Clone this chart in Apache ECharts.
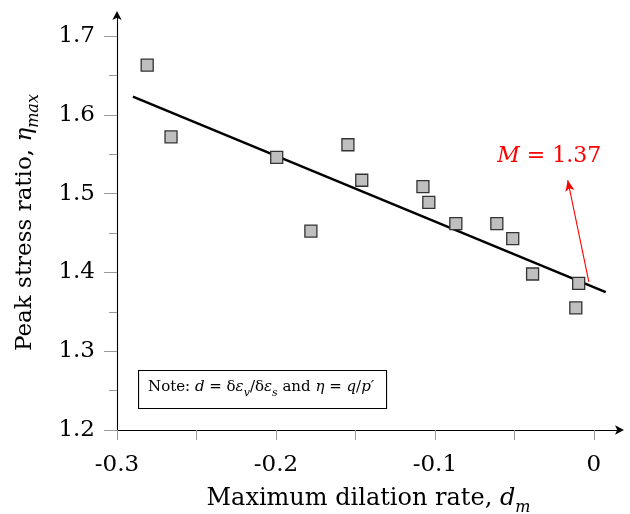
<!DOCTYPE html>
<html>
<head>
<meta charset="utf-8">
<script src="https://cdn.jsdelivr.net/npm/echarts@6/dist/echarts.min.js"></script>
<style>
  html, body { margin: 0; padding: 0; background: #fff; }
  #chart { width: 630px; height: 514px; }
</style>
</head>
<body>
<div id="chart"></div>
<script>
// Maximum dilation rate vs. peak stress ratio
const dilationRate = [-0.281, -0.266, -0.1995, -0.178, -0.1547, -0.146, -0.1075, -0.1038, -0.0868, -0.061, -0.051, -0.0385, -0.0095, -0.0113];
const peakRatio    = [1.663, 1.572, 1.546, 1.4525, 1.562, 1.517, 1.509, 1.489, 1.462, 1.462, 1.443, 1.398, 1.386, 1.355];

// Linear fit end points
const fitX = [-0.29, 0.0075];
const fitY = [1.623, 1.375];

// Tick values
const xMajorTicks = [-0.3, -0.2, -0.1, 0];
const xMinorTicks = [-0.25, -0.15, -0.05];
const yMajorTicks = [1.2, 1.3, 1.4, 1.5, 1.6, 1.7];
const yMinorTicks = [1.25, 1.35, 1.45, 1.55, 1.65];

// Slope annotation
const mArrowFrom = [-0.0031, 1.388];
const mArrowTo = [-0.0164, 1.517];
const mTextAt = [-0.028, 1.548];

const FONT = '"DejaVu Serif", "Liberation Serif", serif';
const X_MIN = -0.3, X_MAX = 0.0165, Y_MIN = 1.2, Y_MAX = 1.7267;
const GRID = { left: 117, right: 10, top: 15, bottom: 84, containLabel: false, outerBoundsMode: 'none' };

const chart = echarts.init(document.getElementById('chart'), null, { renderer: 'canvas' });

const scatterData = dilationRate.map((x, i) => [x, peakRatio[i]]);
const fitData = fitX.map((x, i) => [x, fitY[i]]);

const tickStyle = { color: '#9a9a9a', width: 1 };
const titleRich = (size) => ({
  t: { fontFamily: FONT, fontSize: size, color: '#000', verticalAlign: 'bottom' },
  i: { fontFamily: FONT, fontSize: size, fontStyle: 'italic', color: '#000', verticalAlign: 'bottom' },
  s: { fontFamily: FONT, fontSize: 16, fontStyle: 'italic', color: '#000', verticalAlign: 'bottom', padding: [0, 0, -5, 0] }
});

// a second, identical grid that only carries the minor ticks
const minorAxis = (values, length) => ({
  type: 'value', gridIndex: 1,
  axisLine: { show: false, onZero: false },
  axisTick: { show: true, customValues: values, length: length, lineStyle: tickStyle },
  axisLabel: { show: false },
  splitLine: { show: false }
});

const option = {
  backgroundColor: '#fff',
  animation: false,
  grid: [Object.assign({}, GRID), Object.assign({}, GRID)],
  xAxis: [
    {
      type: 'value', gridIndex: 0, min: X_MIN, max: X_MAX,
      axisLine: { show: true, onZero: false, symbol: ['none', 'arrow'], symbolSize: [7, 9], symbolOffset: [0, 4],
                  lineStyle: { color: '#000', width: 1.1 } },
      axisTick: { show: true, customValues: xMajorTicks, length: 10, lineStyle: tickStyle },
      axisLabel: { customValues: xMajorTicks, margin: 24, color: '#000', fontFamily: FONT, fontSize: 23,
                   formatter: v => (v === 0 ? '0' : String(v)) },
      splitLine: { show: false },
      name: '{t|Maximum dilation rate, }{i|d}{s|m}',
      nameLocation: 'middle', nameGap: 57,
      nameTextStyle: { rich: titleRich(24) }
    },
    Object.assign(minorAxis(xMinorTicks, 10), { min: X_MIN, max: X_MAX, position: 'bottom' })
  ],
  yAxis: [
    {
      type: 'value', gridIndex: 0, min: Y_MIN, max: Y_MAX,
      axisLine: { show: true, onZero: false, symbol: ['none', 'arrow'], symbolSize: [7, 9], symbolOffset: [0, 4],
                  lineStyle: { color: '#000', width: 1.1 } },
      axisTick: { show: true, customValues: yMajorTicks, length: 13, lineStyle: tickStyle },
      axisLabel: { customValues: yMajorTicks, margin: 22, color: '#000', fontFamily: FONT, fontSize: 23,
                   formatter: v => v.toFixed(1) },
      splitLine: { show: false },
      name: '{t|Peak stress ratio, }{i|η}{s|max}',
      nameLocation: 'middle', nameGap: 80, nameRotate: 90,
      nameTextStyle: { rich: titleRich(23) }
    },
    Object.assign(minorAxis(yMinorTicks, 8), { min: Y_MIN, max: Y_MAX, position: 'left' })
  ],
  series: [
    {
      name: 'fit', type: 'line', xAxisIndex: 0, yAxisIndex: 0, data: fitData, showSymbol: false, symbol: 'none',
      lineStyle: { color: '#000', width: 2.5 }, z: 2,
      markLine: {
        silent: true, symbol: ['none', 'arrow'], symbolSize: [7, 11],
        label: { show: false },
        lineStyle: { color: '#ff0000', width: 1.1, type: 'solid' },
        data: [[{ coord: mArrowFrom }, { coord: mArrowTo }]]
      },
      markPoint: {
        silent: true, symbol: 'circle', symbolSize: 0,
        data: [{ coord: mTextAt }],
        label: {
          show: true, position: 'inside',
          formatter: '{i|M}{t| = 1.37}',
          rich: {
            i: { fontFamily: FONT, fontSize: 22, fontStyle: 'italic', color: '#ff0000' },
            t: { fontFamily: FONT, fontSize: 22, color: '#ff0000' }
          }
        }
      }
    },
    {
      name: 'data', type: 'scatter', xAxisIndex: 0, yAxisIndex: 0, data: scatterData, symbol: 'rect', symbolSize: 12,
      itemStyle: { color: '#bfbfbf', borderColor: '#333', borderWidth: 1.3, opacity: 1 }, z: 3
    }
  ],
  graphic: [
    {
      type: 'rect', left: 138, top: 370, z: 10,
      shape: { width: 248, height: 38 },
      style: { fill: '#fff', stroke: '#000', lineWidth: 1.1 }
    },
    {
      type: 'text', left: 148, top: 380, z: 11,
      style: {
        text: '{t|Note: }{i|d}{t| = δ}{i|ε}{s|v}{t|/δ}{i|ε}{s|s}{t| and }{i|η}{t| = }{i|q}{t|/}{i|p′}',
        rich: {
          t: { fontFamily: FONT, fontSize: 15, fill: '#000', verticalAlign: 'bottom' },
          i: { fontFamily: FONT, fontSize: 15, fontStyle: 'italic', fill: '#000', verticalAlign: 'bottom' },
          s: { fontFamily: FONT, fontSize: 11, fontStyle: 'italic', fill: '#000', verticalAlign: 'bottom', padding: [0, 0, -4, 0] }
        }
      }
    }
  ]
};

chart.setOption(option);
</script>
</body>
</html>
